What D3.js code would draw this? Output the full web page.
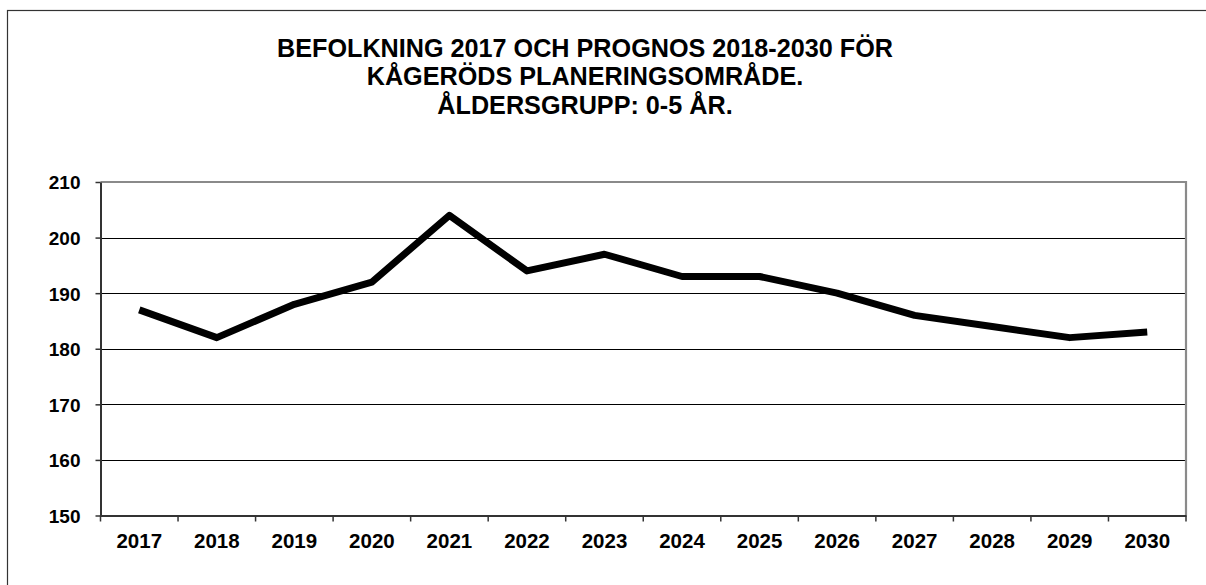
<!DOCTYPE html>
<html><head><meta charset="utf-8">
<script src="https://cdn.jsdelivr.net/npm/d3@7"></script>
<style>
html,body{margin:0;padding:0;background:#fff;}
svg{display:block;}
text{font-family:"Liberation Sans",Arial,sans-serif;font-weight:bold;fill:#000;}
</style></head>
<body>
<script>
const titleLines = ["BEFOLKNING 2017 OCH PROGNOS 2018-2030 FÖR","KÅGERÖDS PLANERINGSOMRÅDE.","ÅLDERSGRUPP: 0-5 ÅR."];
const years = ["2017","2018","2019","2020","2021","2022","2023","2024","2025","2026","2027","2028","2029","2030"];
const values = [187,182,188,192,204,194,197,193,193,190,186,184,182,183];
const yTicks = [150,160,170,180,190,200,210];

const W = 1206, H = 585;
const L = 100.5, R = 1186, T = 182, B = 515.5;

const svg = d3.select("body").append("svg").attr("width", W).attr("height", H);

// outer frame
svg.append("rect").attr("x", 7.5).attr("y", 10.5).attr("width", 1250).attr("height", 700)
  .attr("fill", "none").attr("stroke", "#333").attr("stroke-width", 1.2);

// title
svg.append("g").selectAll("text").data(titleLines).join("text")
  .attr("x", 585).attr("y", (d, i) => 57 + i * 28.3)
  .attr("text-anchor", "middle").style("font-size", "25.2px").text(d => d);

const x = d3.scaleBand().domain(years).range([L, R]);
const y = d3.scaleLinear().domain([150, 210]).range([B, T]);

// gridlines
svg.append("g").selectAll("line").data(yTicks.filter(v => v > 150 && v < 210)).join("line")
  .attr("x1", L).attr("x2", R).attr("y1", d => Math.round(y(d)) + 0.5).attr("y2", d => Math.round(y(d)) + 0.5)
  .attr("stroke", "#000").attr("stroke-width", 1);

// plot border top & right (gray)
svg.append("path").attr("d", `M${L},${T}H${R}V${B}`).attr("fill", "none")
  .attr("stroke", "#8a8a8a").attr("stroke-width", 2.2);

// y axis
const yAxis = d3.axisLeft(y).tickValues(yTicks).tickSize(5).tickPadding(15).tickSizeOuter(0);
const gy = svg.append("g").attr("transform", `translate(${L},0)`).call(yAxis);
gy.select(".domain").attr("stroke", "#333").attr("stroke-width", 2);
gy.selectAll(".tick line").attr("stroke", "#333").attr("stroke-width", 1.5);
gy.selectAll(".tick text").style("font-size", "19px").attr("dy", "0.36em");

// x axis
const xAxis = d3.axisBottom(x).tickSize(0).tickPadding(18);
const gx = svg.append("g").attr("transform", `translate(0,${B})`).call(xAxis);
gx.select(".domain").attr("stroke", "#333").attr("stroke-width", 2.2);
gx.selectAll(".tick text").style("font-size", "20.5px");
// tick marks at band boundaries
const bounds = years.map(d => x(d)).concat([R]);
svg.append("g").selectAll("line").data(bounds).join("line")
  .attr("x1", d => d).attr("x2", d => d).attr("y1", B).attr("y2", B + 6)
  .attr("stroke", "#333").attr("stroke-width", 1.5);

// line
const line = d3.line().x((d, i) => x(years[i]) + x.bandwidth() / 2).y(d => y(d));
svg.append("path").datum(values).attr("d", line).attr("fill", "none")
  .attr("stroke", "#000").attr("stroke-width", 7).attr("stroke-linejoin", "round").attr("stroke-linecap", "butt");
</script>
</body></html>
